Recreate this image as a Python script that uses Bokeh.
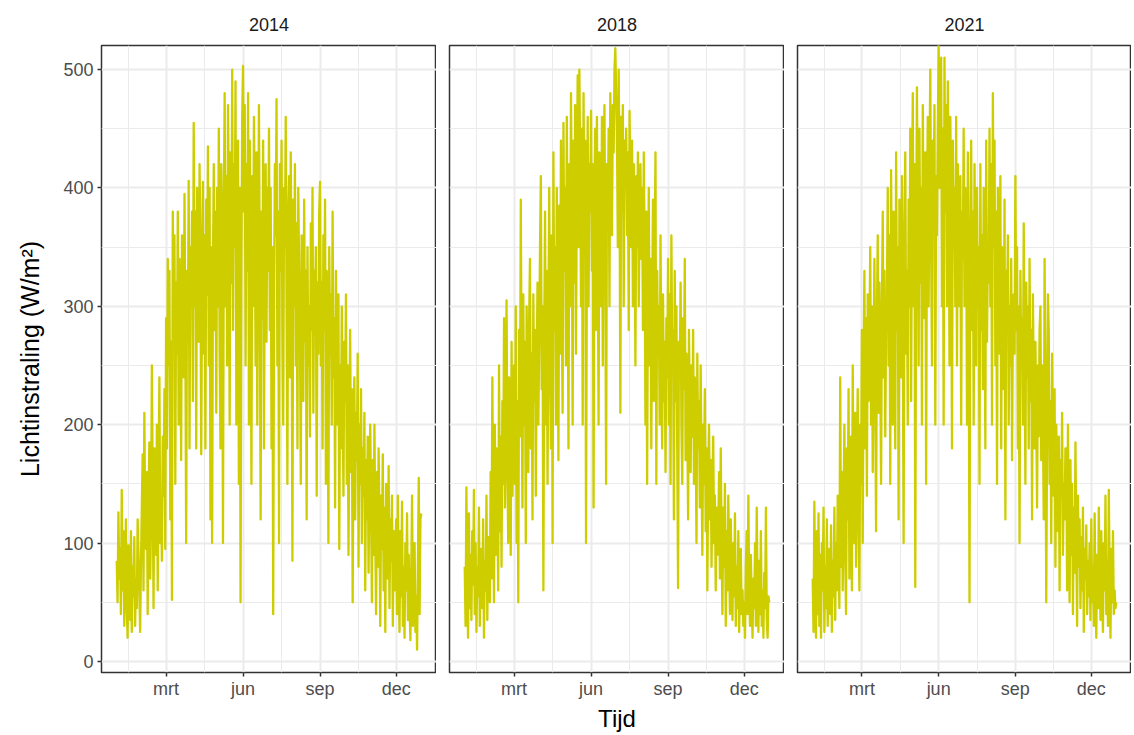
from bokeh.plotting import figure
from bokeh.layouts import row
from bokeh.models import Range1d, FixedTicker, ColumnDataSource
from bokeh.embed import file_html
from bokeh.resources import INLINE

# ---------------- data (daily light radiation, W/m², Jan 1 .. Dec 31) ----------------
years = ["2014", "2018", "2021"]
month_ticks = [59, 151, 243, 334]          # day index of 1 Mar, 1 Jun, 1 Sep, 1 Dec
month_labels = ["mrt", "jun", "sep", "dec"]
minor_x = [14, 105, 197, 288.5]
y_ticks = [0, 100, 200, 300, 400, 500]
y_minor = [50, 150, 250, 350, 450]

values_2014 = [
    85, 50, 126, 70, 95, 40, 145, 60, 110, 30, 75, 120, 45, 20, 98, 60, 35, 110, 25, 80, 55, 105, 30, 70, 45, 120, 90, 60, 25, 85, 130,
    175, 60, 210, 120, 95, 160, 40, 140, 185, 70, 120, 250, 150, 45, 180, 110, 90, 200, 60, 155, 240, 100, 130, 85, 190, 140, 230, 95,
    290, 180, 340, 250, 330, 120, 270, 52, 380, 300, 360, 150, 320, 260, 380, 200, 340, 290, 170, 360, 310, 240, 395, 280, 100, 330, 270, 406, 180, 350, 300,
    380, 220, 455, 300, 380, 180, 400, 330, 270, 420, 350, 175, 320, 405, 260, 360, 180, 390, 310, 435, 250, 400, 120, 350, 100, 330, 420, 280, 380, 210,
    400, 300, 450, 260, 180, 420, 350, 100, 380, 480, 300, 410, 250, 470, 380, 200, 430, 320, 500, 280, 420, 350, 490, 200, 380, 440, 150, 400, 50, 330, 460,
    503, 380, 470, 250, 420, 330, 480, 200, 440, 360, 150, 410, 300, 460, 380, 250, 430, 200, 350, 470, 320, 120, 380, 290, 440, 180, 360, 420, 270, 400,
    330, 450, 280, 400, 180, 350, 40, 300, 420, 360, 475, 250, 380, 100, 420, 330, 440, 280, 200, 400, 350, 460, 300, 150, 380, 410, 240, 430, 320, 85, 390,
    300, 420, 250, 370, 180, 400, 330, 280, 150, 360, 300, 220, 390, 270, 330, 120, 350, 250, 300, 190, 370, 280, 400, 210, 330, 290, 350, 140, 320, 260, 380,
    405, 250, 320, 180, 360, 280, 390, 150, 330, 300, 100, 350, 260, 310, 200, 380, 240, 290, 130, 330, 270, 200, 310, 95, 250, 180, 300, 220, 140, 270,
    220, 310, 150, 250, 90, 200, 280, 160, 230, 50, 190, 240, 120, 210, 170, 260, 80, 200, 150, 230, 100, 180, 140, 210, 60, 170, 120, 190, 75, 150, 200,
    130, 50, 170, 90, 200, 110, 40, 160, 80, 180, 120, 30, 140, 95, 175, 60, 130, 25, 150, 100, 70, 165, 45, 120, 85, 140, 30, 110, 60, 95,
    120, 40, 140, 70, 25, 110, 55, 135, 30, 80, 20, 100, 60, 125, 35, 90, 45, 18, 75, 140, 30, 60, 100, 25, 55, 10, 85, 155, 40, 120, 125,
]

values_2018 = [
    80, 30, 147, 60, 20, 125, 45, 90, 35, 110, 65, 145, 40, 100, 25, 80, 55, 130, 30, 70, 95, 45, 120, 20, 85, 60, 140, 35, 105, 75, 50,
    160, 70, 240, 120, 50, 200, 90, 180, 140, 60, 250, 110, 190, 80, 220, 150, 290, 130, 200, 305, 160, 100, 240, 180, 90, 270, 140, 210,
    250, 150, 300, 100, 220, 50, 280, 190, 390, 240, 130, 310, 200, 270, 100, 300, 230, 160, 290, 340, 180, 260, 120, 310, 220, 280, 140, 250, 320, 200, 270,
    350, 410, 230, 300, 60, 270, 380, 200, 330, 150, 290, 400, 250, 180, 360, 100, 430, 280, 350, 200, 400, 320, 170, 385, 260, 440, 300, 210, 455, 330,
    400, 250, 460, 350, 180, 420, 300, 480, 380, 200, 440, 320, 470, 260, 400, 495, 350, 500, 420, 300, 450, 200, 480, 380, 440, 100, 350, 460, 300, 420, 380,
    465, 330, 420, 130, 400, 450, 280, 460, 350, 200, 430, 380, 300, 460, 250, 410, 470, 340, 150, 420, 380, 450, 300, 480, 400, 360, 470, 430, 500, 518,
    480, 440, 350, 500, 420, 210, 460, 380, 470, 300, 440, 400, 450, 360, 430, 280, 465, 400, 350, 440, 300, 420, 380, 250, 410, 350, 430, 300, 380, 420, 340,
    400, 280, 430, 350, 200, 380, 150, 320, 400, 250, 340, 180, 300, 390, 220, 350, 430, 150, 330, 260, 300, 200, 360, 240, 180, 310, 220, 270, 160, 290, 240,
    340, 200, 310, 150, 360, 250, 280, 120, 330, 220, 300, 180, 62, 270, 240, 320, 200, 150, 290, 230, 340, 170, 260, 200, 120, 280, 210, 160, 250, 190,
    280, 150, 240, 200, 100, 260, 180, 220, 130, 250, 170, 90, 200, 150, 230, 110, 180, 60, 160, 200, 120, 170, 80, 150, 190, 100, 140, 60, 130, 90, 110,
    160, 70, 180, 100, 40, 130, 80, 150, 30, 110, 60, 140, 90, 40, 120, 70, 35, 100, 55, 125, 30, 80, 45, 110, 25, 70, 95, 40, 60, 30,
    50, 20, 80, 110, 40, 140, 60, 30, 90, 50, 20, 70, 45, 100, 30, 130, 60, 25, 85, 40, 110, 30, 60, 20, 75, 45, 130, 35, 20, 55, 50,
]

values_2021 = [
    70, 25, 135, 50, 20, 110, 40, 125, 30, 90, 20, 100, 60, 130, 25, 80, 45, 120, 30, 70, 95, 40, 115, 25, 85, 55, 130, 35, 100, 60, 140,
    100, 45, 240, 80, 160, 60, 130, 200, 90, 40, 180, 120, 230, 70, 150, 190, 60, 250, 140, 100, 210, 80, 170, 230, 120, 60, 200, 150,
    280, 100, 250, 330, 180, 290, 140, 310, 220, 270, 350, 200, 300, 160, 260, 340, 230, 110, 290, 360, 210, 320, 250, 150, 300, 380, 240, 330, 190, 280, 310,
    400, 250, 360, 150, 415, 300, 200, 380, 330, 180, 430, 280, 350, 120, 390, 310, 240, 410, 290, 100, 360, 430, 260, 330, 200, 390, 300, 450, 220, 380,
    480, 300, 420, 63, 350, 485, 380, 250, 450, 320, 400, 200, 470, 350, 290, 430, 150, 390, 460, 300, 420, 500, 350, 250, 440, 380, 470, 200, 410, 360, 450,
    520, 400, 480, 510, 300, 450, 200, 510, 380, 470, 300, 490, 420, 250, 460, 380, 180, 440, 350, 400, 300, 460, 250, 420, 350, 300, 410, 200, 380, 340,
    450, 300, 400, 380, 200, 430, 300, 50, 350, 440, 280, 380, 200, 420, 330, 250, 400, 300, 350, 150, 420, 280, 360, 230, 400, 310, 180, 440, 270, 350, 320,
    450, 300, 420, 200, 480, 350, 440, 250, 380, 150, 400, 320, 260, 410, 180, 350, 300, 230, 390, 120, 330, 280, 360, 200, 300, 250, 340, 170, 290, 310, 260,
    410, 280, 350, 180, 300, 100, 330, 250, 290, 200, 370, 260, 150, 320, 240, 300, 180, 340, 220, 280, 120, 310, 230, 180, 270, 210, 130, 250, 190, 280,
    300, 170, 250, 200, 120, 340, 230, 50, 190, 310, 280, 150, 220, 100, 260, 180, 140, 230, 80, 200, 160, 110, 190, 60, 170, 140, 210, 90, 150, 120, 180,
    180, 60, 200, 120, 50, 170, 90, 150, 40, 130, 75, 185, 100, 30, 140, 80, 120, 45, 105, 60, 130, 25, 95, 70, 115, 40, 85, 55, 100, 35,
    120, 50, 80, 30, 125, 60, 20, 90, 45, 130, 70, 35, 110, 55, 25, 100, 60, 140, 40, 85, 30, 145, 70, 20, 95, 50, 110, 40, 60, 45, 50,
]

series = [values_2014, values_2018, values_2021]

# ---------------- styling ----------------
FONT = "Liberation Sans"
LINE_COLOR = "#CDCD00"
GRID = "#EBEBEB"
BORDER = "#333333"

n_days = 365
pad_x = (n_days - 1) * 0.05
y_range = Range1d(-9.3, 520.3)

figs = []
for i, (yr, vals) in enumerate(zip(years, series)):
    first = i == 0
    p = figure(
        frame_width=335 if i < 2 else 334,
        frame_height=627,
        min_border_left=101 if first else 13,
        min_border_right=0,
        min_border_top=45,
        min_border_bottom=63,
        x_range=Range1d(-pad_x, n_days - 1 + pad_x),
        y_range=y_range,
        output_backend="svg",
        toolbar_location=None,
        title=yr,
    )
    src = ColumnDataSource(dict(x=list(range(len(vals))), y=vals))
    p.line("x", "y", source=src, line_color=LINE_COLOR, line_width=2.3,
           line_join="round")

    p.background_fill_color = "white"
    p.border_fill_color = "white"
    p.outline_line_color = BORDER
    p.outline_line_width = 1.5

    # title as facet strip
    p.title.align = "center"
    p.title.text_font = FONT
    p.title.text_font_size = "18px"
    p.title.text_font_style = "normal"
    p.title.text_color = "#1A1A1A"
    p.title.standoff = 29

    # x axis
    p.xaxis.ticker = FixedTicker(ticks=month_ticks, minor_ticks=minor_x)
    p.xaxis.major_label_overrides = {t: l for t, l in zip(month_ticks, month_labels)}
    p.xaxis.axis_line_color = None
    p.xaxis.major_tick_line_color = BORDER
    p.xaxis.major_tick_line_width = 1.5
    p.xaxis.major_tick_out = 4
    p.xaxis.major_tick_in = 0
    p.xaxis.minor_tick_line_color = None
    p.xaxis.major_label_text_font = FONT
    p.xaxis.major_label_text_font_size = "18px"
    p.xaxis.major_label_text_color = "#4D4D4D"
    p.xaxis.major_label_standoff = 2
    if i == 1:
        p.xaxis.axis_label = "Tijd"
        p.xaxis.axis_label_text_font = FONT
        p.xaxis.axis_label_text_font_size = "24px"
        p.xaxis.axis_label_text_font_style = "normal"
        p.xaxis.axis_label_text_color = "black"
        p.xaxis.axis_label_standoff = 3

    # y axis
    p.yaxis.ticker = FixedTicker(ticks=y_ticks, minor_ticks=y_minor)
    p.yaxis.axis_line_color = None
    p.yaxis.major_tick_line_color = BORDER
    p.yaxis.major_tick_line_width = 1.5
    p.yaxis.major_tick_out = 4
    p.yaxis.major_tick_in = 0
    p.yaxis.minor_tick_line_color = None
    p.yaxis.major_label_text_font = FONT
    p.yaxis.major_label_text_font_size = "18px"
    p.yaxis.major_label_text_color = "#4D4D4D"
    p.yaxis.major_label_standoff = 4
    if first:
        p.yaxis.axis_label = "Lichtinstraling (W/m²)"
        p.yaxis.axis_label_text_font = FONT
        p.yaxis.axis_label_text_font_size = "25px"
        p.yaxis.axis_label_text_font_style = "normal"
        p.yaxis.axis_label_text_color = "black"
        p.yaxis.axis_label_standoff = 16
    else:
        p.yaxis.visible = False

    # grid
    for g in (p.xgrid, p.ygrid):
        g.grid_line_color = GRID
        g.grid_line_width = 2
        g.minor_grid_line_color = GRID
        g.minor_grid_line_width = 1
    figs.append(p)

layout = row(*figs)
open("out.html", "w").write(file_html(layout, INLINE))
